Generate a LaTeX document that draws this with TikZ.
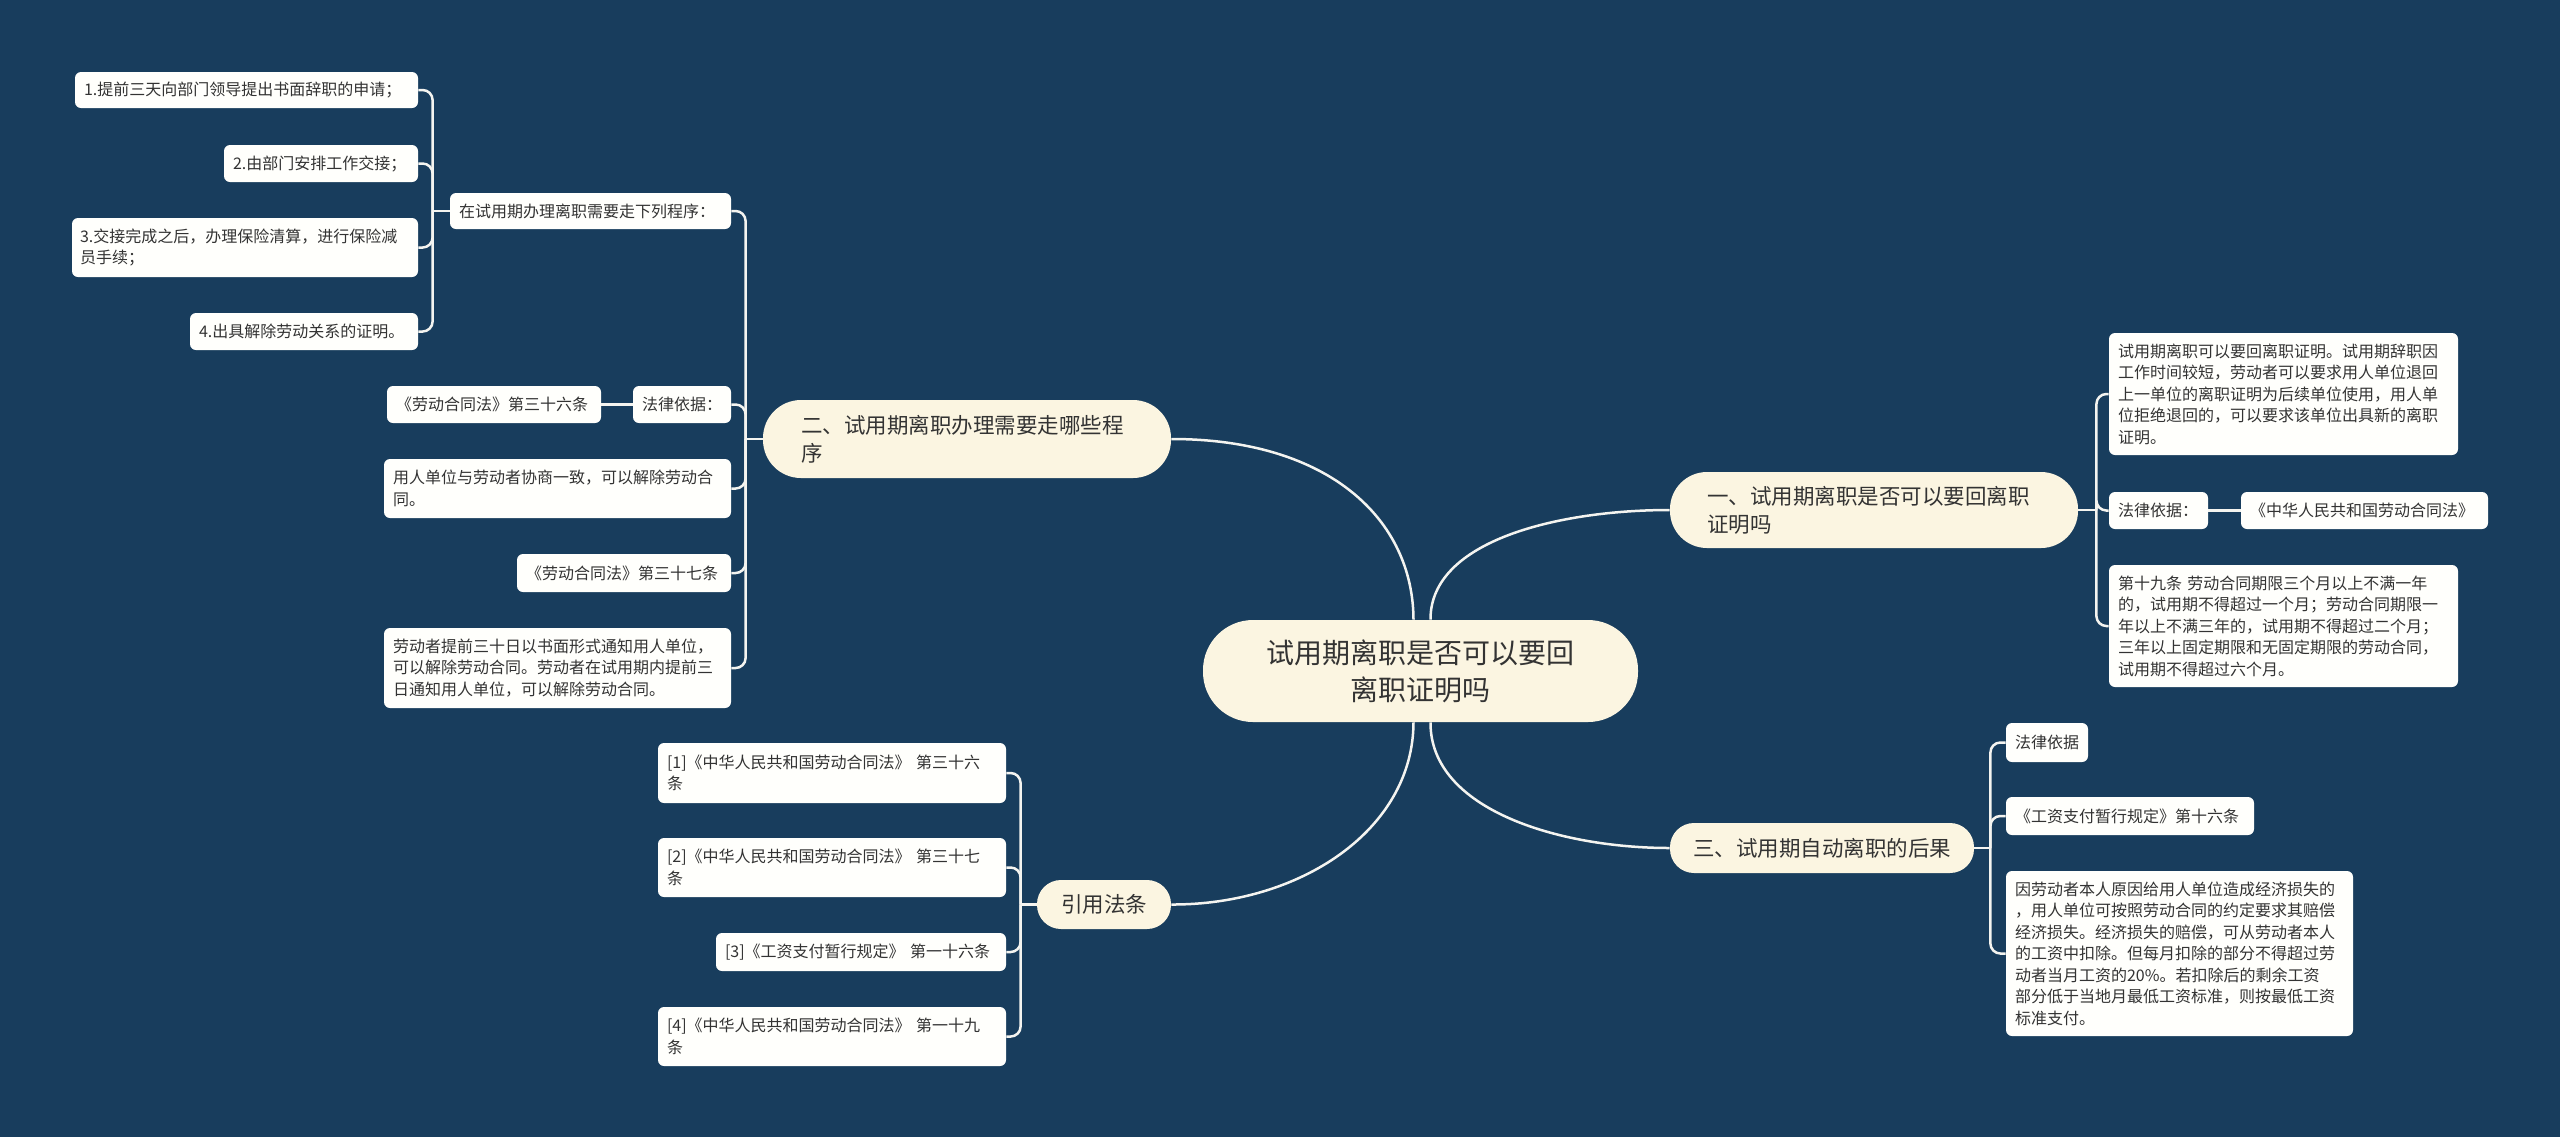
\documentclass[tikz,border=0pt]{standalone}
\usepackage{fontspec}
\setmainfont{Noto Sans CJK SC}
\usetikzlibrary{calc}
\definecolor{bgc}{HTML}{183D5D}
\definecolor{cream}{HTML}{FBF5E1}
\definecolor{leaff}{HTML}{FFFFFC}
\definecolor{txt}{HTML}{333333}
\definecolor{lnc}{HTML}{F4F4F0}
\newcommand\mknode[8]{%
 \pgfmathsetmacro\mkCX{(#2+#4)/2}%
 \pgfmathsetmacro\mkCY{(#3+#5)/2}%
 \pgfmathsetmacro\mkW{(#4-#2)*0.5}%
 \pgfmathsetmacro\mkH{(#5-#3)*0.5}%
 \pgfmathsetmacro\mkTW{(#4-#2-2*#6)*0.5}%
 \pgfmathsetmacro\mkP{#6*0.5}%
 \node[#7, minimum width=\mkW pt, minimum height=\mkH pt, text width=\mkTW pt, inner xsep=\mkP pt, inner ysep=0pt] (#1) at (\mkCX,\mkCY) {#8};}
\tikzset{
 leaf/.style={fill=leaff, rounded corners=3pt, text=txt, align=left, font=\fontsize{8pt}{10.75pt}\selectfont},
 lvlone/.style={fill=cream, text=txt, align=left, font=\fontsize{10.75pt}{14pt}\selectfont},
 rootn/.style={fill=cream, text=txt, align=center, rounded corners=25pt, font=\fontsize{14pt}{18.5pt}\selectfont},
 conn/.style={draw=lnc, line width=1.25pt},
 trunk/.style={conn, rounded corners=5pt}
}
\begin{document}
\begin{tikzpicture}[x=0.5pt,y=-0.5pt]
\fill[bgc] (0,0) rectangle (2560,1137);
\useasboundingbox (0,0) rectangle (2560,1137);
% root and level one
\mknode{root}{1203}{620}{1638}{722}{20}{rootn}{试用期离职是否可以要回\\离职证明吗}
\mknode{N2}{763}{400}{1171}{478}{38}{lvlone, rounded corners=19pt}{二、试用期离职办理需要走哪些程\\序}
\mknode{N1}{1670}{472}{2078}{548}{37}{lvlone, rounded corners=18.5pt}{一、试用期离职是否可以要回离职\\证明吗}
\mknode{N3}{1670}{823}{1974}{873}{23}{lvlone, rounded corners=12pt}{三、试用期自动离职的后果}
\mknode{NC}{1037}{880}{1171}{929}{24}{lvlone, rounded corners=12pt, align=center}{引用法条}
% left group
\mknode{L1}{450}{193}{731}{229}{9}{leaf}{在试用期办理离职需要走下列程序：}
\mknode{L1a}{75}{72}{418}{108}{9}{leaf}{1.提前三天向部门领导提出书面辞职的申请；}
\mknode{L1b}{224}{145}{418}{182}{9}{leaf}{2.由部门安排工作交接；}
\mknode{L1c}{72}{218}{418}{277}{8}{leaf}{3.交接完成之后，办理保险清算，进行保险减\\员手续；}
\mknode{L1d}{190}{313}{418}{350}{9}{leaf}{4.出具解除劳动关系的证明。}
\mknode{L2}{633}{386}{731}{423}{9}{leaf}{法律依据：}
\mknode{L2a}{387}{386}{601}{423}{9}{leaf}{《劳动合同法》第三十六条}
\mknode{L3}{384}{459}{731}{518}{9}{leaf}{用人单位与劳动者协商一致，可以解除劳动合\\同。}
\mknode{L4}{517}{554}{731}{592}{9}{leaf}{《劳动合同法》第三十七条}
\mknode{L5}{384}{628}{731}{708}{9}{leaf}{劳动者提前三十日以书面形式通知用人单位，\\可以解除劳动合同。劳动者在试用期内提前三\\日通知用人单位，可以解除劳动合同。}
% right group one
\mknode{R1}{2109}{333}{2458}{455}{9}{leaf}{试用期离职可以要回离职证明。试用期辞职因\\工作时间较短，劳动者可以要求用人单位退回\\上一单位的离职证明为后续单位使用，用人单\\位拒绝退回的，可以要求该单位出具新的离职\\证明。}
\mknode{R2}{2109}{492}{2208}{529}{9}{leaf}{法律依据：}
\mknode{R2a}{2241}{492}{2488}{529}{9}{leaf}{《中华人民共和国劳动合同法》}
\mknode{R3}{2109}{565}{2458}{687}{9}{leaf}{第十九条 劳动合同期限三个月以上不满一年\\的，试用期不得超过一个月；劳动合同期限一\\年以上不满三年的，试用期不得超过二个月；\\三年以上固定期限和无固定期限的劳动合同，\\试用期不得超过六个月。}
% right group three
\mknode{T1}{2006}{723}{2088}{762}{9}{leaf}{法律依据}
\mknode{T2}{2006}{797}{2254}{835}{9}{leaf}{《工资支付暂行规定》第十六条}
\mknode{T3}{2006}{871}{2353}{1036}{9}{leaf}{因劳动者本人原因给用人单位造成经济损失的\\，用人单位可按照劳动合同的约定要求其赔偿\\经济损失。经济损失的赔偿，可从劳动者本人\\的工资中扣除。但每月扣除的部分不得超过劳\\动者当月工资的20\%。若扣除后的剩余工资\\部分低于当地月最低工资标准，则按最低工资\\标准支付。}
% citations
\mknode{C1}{658}{743}{1006}{803}{9}{leaf}{[1]《中华人民共和国劳动合同法》 第三十六\\条}
\mknode{C2}{658}{838}{1006}{897}{9}{leaf}{[2]《中华人民共和国劳动合同法》 第三十七\\条}
\mknode{C3}{716}{933}{1006}{971}{9}{leaf}{[3]《工资支付暂行规定》 第一十六条}
\mknode{C4}{658}{1007}{1006}{1066}{9}{leaf}{[4]《中华人民共和国劳动合同法》 第一十九\\条}
% root connectors
\draw[conn] ($(root.north)+(-7,0)$) .. controls (1413,520) and (1330,439) .. (N2.east);
\draw[conn] ($(root.north)+(10,0)$) .. controls (1430,540) and (1560,510) .. (N1.west);
\draw[conn] ($(root.south)+(10,0)$) .. controls (1430,810) and (1560,848) .. (N3.west);
\draw[conn] ($(root.south)+(-7,0)$) .. controls (1413,830) and (1300,905) .. (NC.east);
% trunks
\coordinate (tA) at ($(L1.west)+(-17,0)$);
\draw[conn] (L1.west) -- (tA);
\foreach \c in {L1a,L1b,L1c,L1d} \draw[trunk] (tA) -- (tA |- \c.east) -- (\c.east);
\coordinate (tB) at ($(N2.west)+(-17,0)$);
\draw[conn] (N2.west) -- (tB);
\foreach \c in {L1,L2,L3,L4,L5} \draw[trunk] (tB) -- (tB |- \c.east) -- (\c.east);
\draw[conn] (L2.west) -- (L2a.east);
\coordinate (tC) at ($(N1.east)+(18,0)$);
\draw[conn] (N1.east) -- (tC);
\foreach \c in {R1,R2,R3} \draw[trunk] (tC) -- (tC |- \c.west) -- (\c.west);
\draw[conn] (R2.east) -- (R2a.west);
\coordinate (tD) at ($(N3.east)+(16,0)$);
\draw[conn] (N3.east) -- (tD);
\foreach \c in {T1,T2,T3} \draw[trunk] (tD) -- (tD |- \c.west) -- (\c.west);
\coordinate (tE) at ($(NC.west)+(-16,0)$);
\draw[conn] (NC.west) -- (tE);
\foreach \c in {C1,C2,C3,C4} \draw[trunk] (tE) -- (tE |- \c.east) -- (\c.east);
\end{tikzpicture}
\end{document}
